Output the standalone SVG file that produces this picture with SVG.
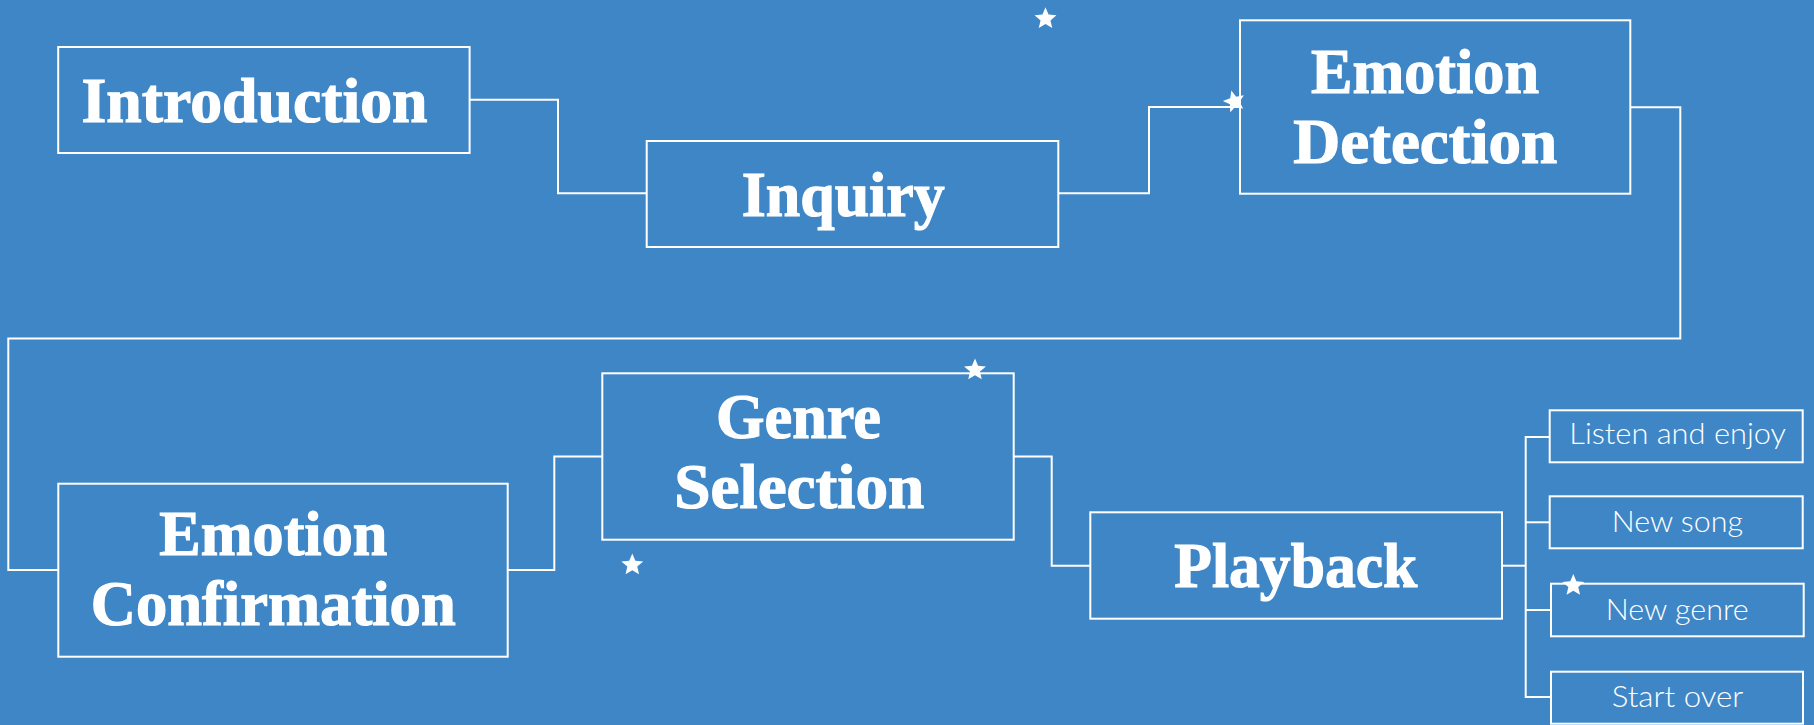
<svg xmlns="http://www.w3.org/2000/svg" xmlns:xlink="http://www.w3.org/1999/xlink" width="1814" height="725" viewBox="0 0 1814 725">
  <style>
    .box { fill: none; stroke: #ffffff; stroke-width: 2; }
    .link { fill: none; stroke: #ffffff; stroke-width: 2; }
    .title { fill: #ffffff; stroke: #ffffff; stroke-width: 1.2; font-family: "Liberation Serif", "DejaVu Serif", serif; font-weight: bold; font-size: 64px; }
    .option { fill: #ffffff; font-family: "Lato", "Open Sans", "Liberation Sans", sans-serif; font-weight: 300; font-size: 29px; }
    .star { fill: #ffffff; }
  </style>
  <defs>
    <path id="star" d="M0,-11.5 L3.06,-4.21 L10.94,-3.55 L4.95,1.61 L6.76,9.30 L0,5.2 L-6.76,9.30 L-4.95,1.61 L-10.94,-3.55 L-3.06,-4.21 Z"/>
  </defs>

  <rect x="0" y="0" width="1814" height="725" fill="#3f86c6"/>

  <!-- connectors -->
  <g id="connectors">
    <path class="link" d="M469.6,99.7 H558 V193.3 H646.7"/>
    <path class="link" d="M1058.3,193.3 H1149 V107 H1240"/>
    <path class="link" d="M1630.3,107.3 H1680.3 V338.5 H8.3 V570 H58.3"/>
    <path class="link" d="M507.7,570 H554.3 V456.5 H602.3"/>
    <path class="link" d="M1013.7,456.5 H1051.7 V565.7 H1090.3"/>
    <path class="link" d="M1502,565.7 H1525.7"/>
    <path class="link" d="M1549.7,437 H1525.7 V697 H1551"/>
    <path class="link" d="M1525.7,522.3 H1549.7"/>
    <path class="link" d="M1525.7,610 H1551"/>
  </g>

  <!-- process steps -->
  <g id="introduction">
    <rect class="box" x="58.2" y="47" width="411.4" height="106"/>
    <text class="title" x="81.5" y="121.7" textLength="346" lengthAdjust="spacingAndGlyphs">Introduction</text>
  </g>
  <g id="inquiry">
    <rect class="box" x="646.7" y="141" width="411.6" height="106"/>
    <text class="title" x="741.7" y="216" textLength="203" lengthAdjust="spacingAndGlyphs">Inquiry</text>
  </g>
  <g id="emotion-detection">
    <rect class="box" x="1240" y="20.3" width="390.3" height="173.4"/>
    <text class="title" x="1311" y="92.7" textLength="228" lengthAdjust="spacingAndGlyphs">Emotion</text>
    <text class="title" x="1293.3" y="162.7" textLength="264" lengthAdjust="spacingAndGlyphs">Detection</text>
  </g>
  <g id="emotion-confirmation">
    <rect class="box" x="58.3" y="483.7" width="449.4" height="173"/>
    <text class="title" x="159.3" y="555.3" textLength="228" lengthAdjust="spacingAndGlyphs">Emotion</text>
    <text class="title" x="90.7" y="625" textLength="365" lengthAdjust="spacingAndGlyphs">Confirmation</text>
  </g>
  <g id="genre-selection">
    <rect class="box" x="602.3" y="373.3" width="411.4" height="166.4"/>
    <text class="title" x="716" y="438.3" textLength="165" lengthAdjust="spacingAndGlyphs">Genre</text>
    <text class="title" x="674.3" y="508.3" textLength="250" lengthAdjust="spacingAndGlyphs">Selection</text>
  </g>
  <g id="playback">
    <rect class="box" x="1090.3" y="512.3" width="411.7" height="106.4"/>
    <text class="title" x="1174.3" y="587.3" textLength="243" lengthAdjust="spacingAndGlyphs">Playback</text>
  </g>

  <!-- playback options -->
  <g id="listen-and-enjoy">
    <rect class="box" x="1549.7" y="410.3" width="253" height="52"/>
    <text class="option" x="1569.3" y="444" textLength="216.7" lengthAdjust="spacingAndGlyphs">Listen and enjoy</text>
  </g>
  <g id="new-song">
    <rect class="box" x="1549.7" y="496.3" width="253" height="52"/>
    <text class="option" x="1611.7" y="531.7" textLength="131.3" lengthAdjust="spacingAndGlyphs">New song</text>
  </g>
  <g id="new-genre">
    <rect class="box" x="1551" y="583.7" width="252.7" height="52.6"/>
    <text class="option" x="1605.7" y="620" textLength="143" lengthAdjust="spacingAndGlyphs">New genre</text>
  </g>
  <g id="start-over">
    <rect class="box" x="1551" y="671.7" width="252" height="52"/>
    <text class="option" x="1611.7" y="707.3" textLength="131.6" lengthAdjust="spacingAndGlyphs">Start over</text>
  </g>

  <!-- decorative stars -->
  <g id="stars" class="star">
    <use xlink:href="#star" x="1045.5" y="18.8"/>
    <use xlink:href="#star" x="1234.3" y="101.5" transform="rotate(-15 1234.3 101.5)"/>
    <use xlink:href="#star" x="975" y="370"/>
    <use xlink:href="#star" x="632.3" y="565"/>
    <use xlink:href="#star" x="1573.3" y="585.5"/>
  </g>
</svg>
